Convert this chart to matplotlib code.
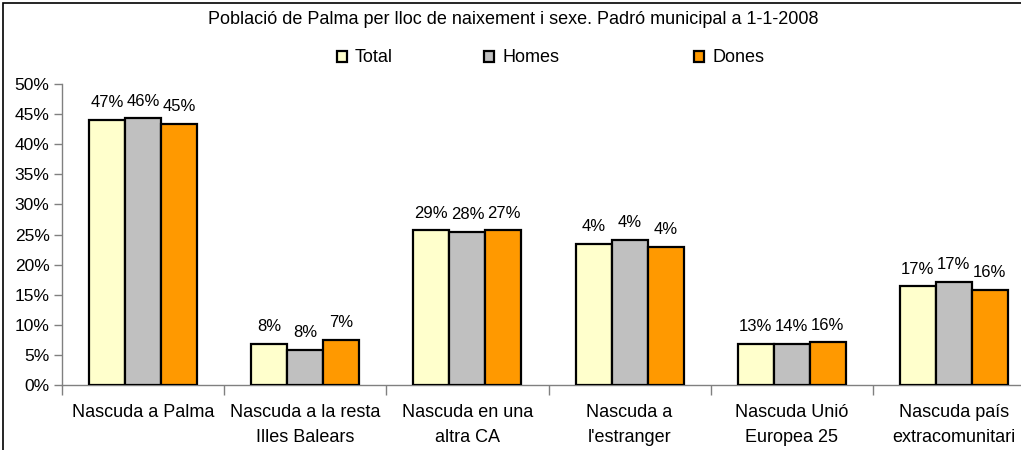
import numpy as np
import matplotlib
matplotlib.use("Agg")
import matplotlib.pyplot as plt
from matplotlib.patches import Rectangle

plt.rcParams['font.family'] = ['Liberation Sans', 'DejaVu Sans']

# data
categories = ["Nascuda a Palma", "Nascuda a la resta\nIlles Balears", "Nascuda en una\naltra CA",
              "Nascuda a\nl'estranger", "Nascuda Unió\nEuropea 25", "Nascuda país\nextracomunitari"]
series = ["Total", "Homes", "Dones"]
total = [44.0, 6.8, 25.7, 23.4, 6.8, 16.4]
homes = [44.3, 5.8, 25.4, 24.1, 6.8, 17.1]
dones = [43.4, 7.5, 25.7, 23.0, 7.1, 15.8]
# the printed labels do not match the bar heights in the original
total_lbl = ["47%", "8%", "29%", "4%", "13%", "17%"]
homes_lbl = ["46%", "8%", "28%", "4%", "14%", "17%"]
dones_lbl = ["45%", "7%", "27%", "4%", "16%", "16%"]
yticks = [0, 5, 10, 15, 20, 25, 30, 35, 40, 45, 50]

colors = ["#FFFFCC", "#C0C0C0", "#FF9900"]

fig = plt.figure(figsize=(10.21, 4.5), dpi=100)
# axes run past the right edge, the original is cropped there
ax = fig.add_axes([62 / 1021, 65 / 450, 973 / 1021, 301 / 450])

x = np.arange(len(categories))
w = 0.222
bars = []
for k, (vals, lbls) in enumerate([(total, total_lbl), (homes, homes_lbl), (dones, dones_lbl)]):
    b = ax.bar(x + (k - 1) * w, vals, w, color=colors[k], edgecolor="black", linewidth=1.6,
               label=series[k], zorder=3)
    bars.append(b)
    for rect, s in zip(b, lbls):
        ax.annotate(s, (rect.get_x() + rect.get_width() / 2, rect.get_height()),
                    xytext=(0, 7), textcoords="offset points", ha="center", va="bottom",
                    fontsize=12)

ax.set_xlim(-0.5, len(categories) - 0.5)
ax.set_ylim(0, 50)
ax.set_yticks(yticks)
ax.set_yticklabels([f"{t}%" for t in yticks], fontsize=12.5)
ax.set_xticks(np.arange(-0.5, len(categories), 1.0))
ax.set_xticklabels([])
ax.set_xticks(x, minor=True)
ax.set_xticklabels(categories, minor=True, fontsize=13, va="top", linespacing=1.55)
ax.tick_params(axis="x", which="minor", length=0, pad=14)
ax.tick_params(axis="x", which="major", length=7, color="#808080", width=1)
ax.tick_params(axis="y", length=6, color="#808080", width=1, pad=3)

for s in ["top", "right"]:
    ax.spines[s].set_visible(False)
for s in ["left", "bottom"]:
    ax.spines[s].set_color("#808080")
    ax.spines[s].set_linewidth(1)

fig.text(513 / 1021, 1 - 20 / 450, "Població de Palma per lloc de naixement i sexe. Padró municipal a 1-1-2008",
         ha="center", va="center", fontsize=13)

# legend entries sit at fixed spots in the original
for b, name, px in zip(bars, series, [337, 484, 694]):
    fig.legend(handles=[b], labels=[name], loc="center left", bbox_to_anchor=(px / 1021, 1 - 58 / 450),
               frameon=False, fontsize=13, handlelength=0.55, handleheight=0.55,
               handletextpad=0.45, borderpad=0, borderaxespad=0)

# outer chart border
fig.patches.append(Rectangle((3 / 1021, -0.1), 1.2, 1 - 3 / 450 + 0.1, transform=fig.transFigure,
                             fill=False, edgecolor="black", linewidth=1.2))

fig.savefig("out.png", dpi=100)
